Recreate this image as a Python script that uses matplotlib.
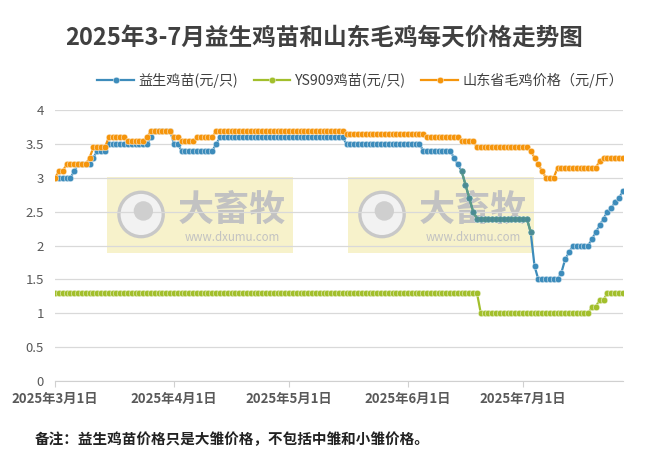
import pandas as pd
import matplotlib
matplotlib.use("Agg")
import matplotlib.pyplot as plt
from matplotlib.patches import Rectangle, Ellipse

plt.rcParams['font.family'] = ['Noto Sans CJK SC', 'DejaVu Sans']

# === Data (daily from 2025-03-01) ===
dates = pd.date_range("2025-03-01", "2025-07-27", freq="D")

yisheng = ([3.0] * 5 + [3.1] + [3.2] * 4 + [3.3] + [3.4] * 3 + [3.5] * 11 + [3.6]
           + [3.7] * 5 + [3.5] * 2 + [3.4] * 9 + [3.5] + [3.6] * 33 + [3.5] * 20
           + [3.4] * 8 + [3.3, 3.2, 3.1, 2.9, 2.7, 2.5] + [2.4] * 14 + [2.2, 1.7]
           + [1.5] * 6 + [1.6, 1.8, 1.9] + [2.0] * 5
           + [2.1, 2.2, 2.3, 2.4, 2.5, 2.55, 2.65, 2.7, 2.8])

ys909 = [1.3] * 111 + [1.0] * 29 + [1.1] * 2 + [1.2] * 2 + [1.3] * 5

maoji = ([3.0] + [3.1] * 2 + [3.2] * 6 + [3.3] + [3.45] * 4 + [3.6] * 5 + [3.55] * 5
         + [3.6] + [3.7] * 6 + [3.6] * 2 + [3.55] * 4 + [3.6] * 5 + [3.7] * 34
         + [3.65] * 21 + [3.6] * 9 + [3.55] * 4 + [3.45] * 14
         + [3.4, 3.3, 3.2, 3.1] + [3.0] * 3 + [3.15] * 11 + [3.25] + [3.3] * 6)

# stretch of the 益生 line drawn in a teal tone in the original
teal_from, teal_to = 106, 125

series_names = ["益生鸡苗(元/只)", "YS909鸡苗(元/只)", "山东省毛鸡价格（元/斤）"]
colors = ["#3d8cbb", "#a2bf2c", "#f5950c"]
month_ticks = pd.to_datetime(["2025-03-01", "2025-04-01", "2025-05-01",
                              "2025-06-01", "2025-07-01"])
tick_labels = ["2025年3月1日", "2025年4月1日", "2025年5月1日", "2025年6月1日", "2025年7月1日"]

# === Figure ===
fig = plt.figure(figsize=(6.48, 4.63), dpi=100)
ax = fig.add_axes([0.085, 0.177, 0.876, 0.585])

# watermark boxes (axes is ~568 x 271 px)
for x0 in (0.0915, 0.516):
    ax.add_patch(Rectangle((x0, 0.472), 0.327, 0.281, transform=ax.transAxes,
                           facecolor="#f6f0c2", edgecolor="none", alpha=0.85, zorder=0))
    ax.add_patch(Ellipse((x0 + 0.06, 0.615), 0.078, 0.164, transform=ax.transAxes,
                         facecolor="#f2f2f2", edgecolor="#c8c8c8", lw=2.4, zorder=0.5))
    ax.add_patch(Ellipse((x0 + 0.064, 0.628), 0.034, 0.072, transform=ax.transAxes,
                         facecolor="#cfcfcf", edgecolor="none", zorder=0.6))
    ax.text(x0 + 0.22, 0.63, "大畜牧", transform=ax.transAxes, ha="center", va="center",
            fontsize=26, color="#c2c2c2", fontweight="bold", zorder=0.5)
    ax.text(x0 + 0.22, 0.53, "www.dxumu.com", transform=ax.transAxes, ha="center",
            va="center", fontsize=8.3, color="#c2c2c2", zorder=0.5)

mk = dict(marker="o", markersize=4.7, markeredgecolor="white", markeredgewidth=0.3, lw=1.6)
ax.plot(dates, yisheng, color=colors[0], label=series_names[0], zorder=3, **mk)
ax.plot(dates[teal_from:teal_to], yisheng[teal_from:teal_to], color="#5f9c86",
        marker="o", markersize=3.8, markerfacecolor="#4a8a96", markeredgecolor="#5f9c86",
        markeredgewidth=0.4, lw=1.6, zorder=3.5)
ax.plot(dates, ys909, color=colors[1], label=series_names[1], zorder=4, **mk)
ax.plot(dates, maoji, color=colors[2], label=series_names[2], zorder=5, **mk)

ax.set_ylim(0, 4)
ax.set_yticks([0, 0.5, 1, 1.5, 2, 2.5, 3, 3.5, 4])
ax.set_yticklabels(["0", "0.5", "1", "1.5", "2", "2.5", "3", "3.5", "4"])
ax.set_xlim(dates[0], dates[-1])
ax.set_xticks(month_ticks)
ax.set_xticklabels(tick_labels, fontweight="bold")
ax.tick_params(axis="x", colors="#595959", labelsize=9.5, length=4, color="#d0d0d0")
ax.tick_params(axis="y", colors="#595959", labelsize=9.5, length=0, pad=8)
ax.grid(axis="y", color="#d9d9d9", lw=0.9)
ax.set_axisbelow(True)
for s in ("top", "right", "left"):
    ax.spines[s].set_visible(False)
ax.spines["bottom"].set_color("#d0d0d0")
ax.spines["bottom"].set_zorder(1)

fig.text(0.5, 0.918, "2025年3-7月益生鸡苗和山东毛鸡每天价格走势图", ha="center", va="center",
         fontsize=17, fontweight="bold", color="#404040")
fig.legend(loc="center", bbox_to_anchor=(0.556, 0.827), ncol=3, frameon=False,
           fontsize=10.2, handlelength=2.6, columnspacing=1.1, handletextpad=0.3,
           labelcolor="#404040")
fig.text(0.054, 0.052, "备注：益生鸡苗价格只是大雏价格，不包括中雏和小雏价格。", ha="left",
         va="center", fontsize=10.5, fontweight="bold", color="#222222")

fig.savefig("out.png", dpi=100)
plt.close(fig)
